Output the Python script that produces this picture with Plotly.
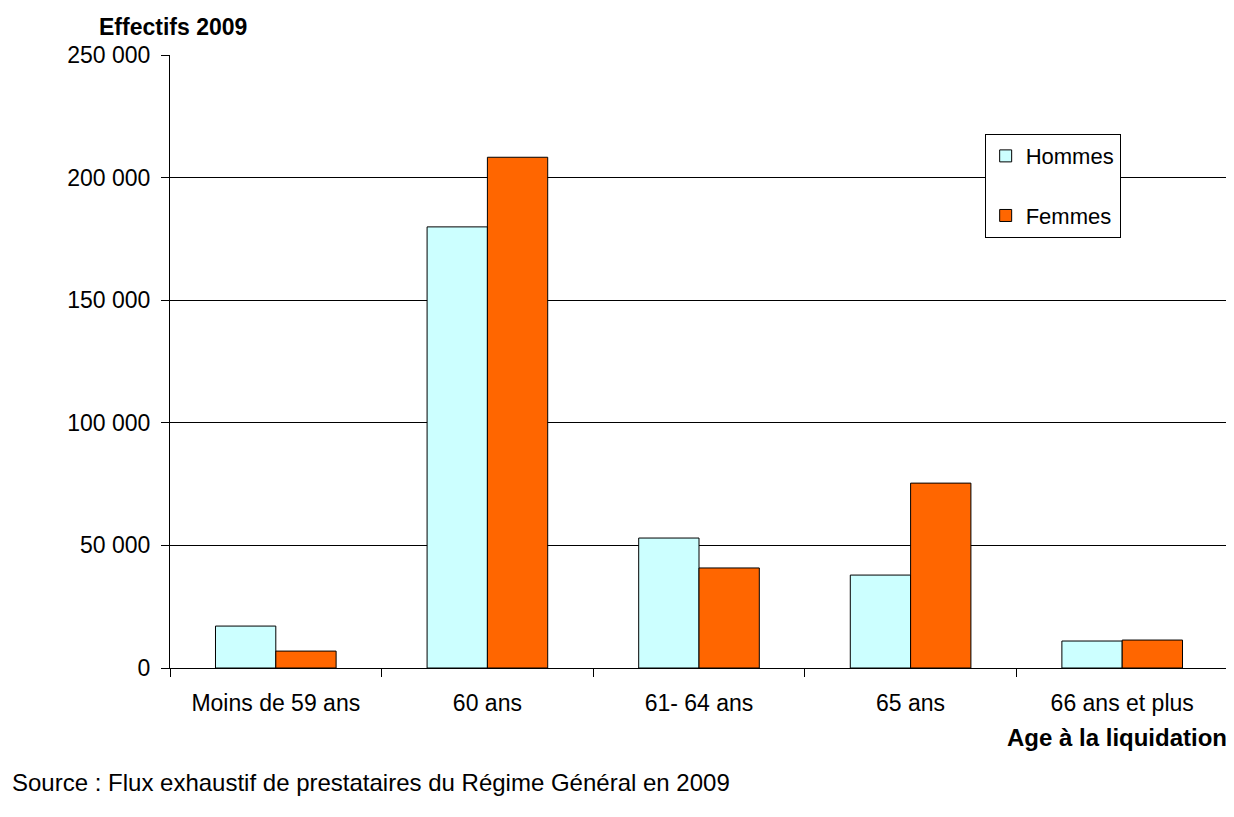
import plotly.graph_objects as go

categories = ["Moins de 59 ans", "60 ans", "61- 64 ans", "65 ans", "66 ans et plus"]
hommes = [17100, 179900, 53000, 37900, 11000]
femmes = [6900, 208300, 40800, 75400, 11400]
y_tickvals = [0, 50000, 100000, 150000, 200000, 250000]
y_ticktext = ["0", "50 000", "100 000", "150 000", "200 000", "250 000"]

FONT = "Liberation Sans, Arial, sans-serif"

fig = go.Figure()
fig.add_trace(go.Bar(name="Hommes", x=categories, y=hommes, legendgroup="h",
                     marker=dict(color="#CCFFFF", line=dict(color="black", width=1))))
fig.add_trace(go.Bar(name="Femmes", x=categories, y=femmes, legendgroup="f",
                     marker=dict(color="#FF6600", line=dict(color="black", width=1))))

fig.update_layout(
    width=1226, height=809,
    margin=dict(l=162, r=6, t=47, b=149),
    paper_bgcolor="white", plot_bgcolor="white",
    font=dict(family=FONT, size=23, color="black"),
    barmode="group", bargap=0.43, bargroupgap=0,
    showlegend=True,
    legend=dict(x=0.770, y=0.871, xanchor="left", yanchor="top",
                bordercolor="black", borderwidth=1, bgcolor="white",
                font=dict(size=22), traceorder="grouped", tracegroupgap=28,
                itemwidth=30),
    xaxis=dict(showline=True, linecolor="black", linewidth=1,
               ticks="outside", tickson="boundaries", ticklen=8, tickcolor="black",
               showgrid=False, tickfont=dict(size=23), ticklabelstandoff=14),
    yaxis=dict(range=[0, 250000], tickvals=y_tickvals, ticktext=y_ticktext,
               showline=True, linecolor="black", linewidth=1,
               ticks="outside", ticklen=8, tickcolor="black",
               showgrid=True, gridcolor="black", gridwidth=1,
               zeroline=False, tickfont=dict(size=23), ticklabelstandoff=6),
    annotations=[
        dict(text="<b>Effectifs 2009</b>", xref="paper", yref="paper", x=-0.069, y=1.0457,
             xanchor="left", yanchor="middle", showarrow=False, font=dict(size=23)),
        dict(text="<b>Age à la liquidation</b>", xref="paper", yref="paper", x=1.001, y=-0.114,
             xanchor="right", yanchor="middle", showarrow=False, font=dict(size=24)),
        dict(text="Source : Flux exhaustif de prestataires du Régime Général en 2009",
             xref="paper", yref="paper", x=-0.151, y=-0.1876,
             xanchor="left", yanchor="middle", showarrow=False, font=dict(size=24)),
    ],
)

fig.write_html("out.html")
